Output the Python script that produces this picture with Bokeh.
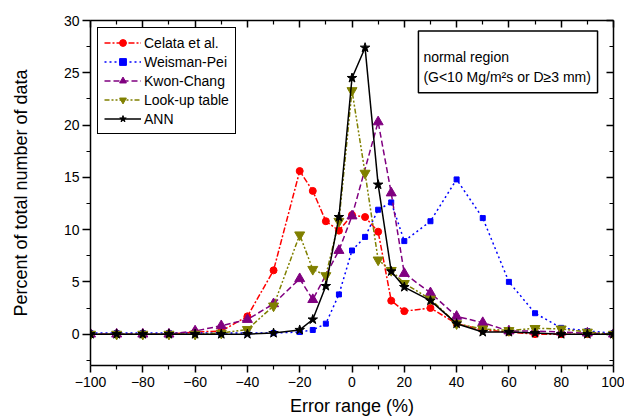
from bokeh.plotting import figure
from bokeh.models import (Range1d, FixedTicker, LinearAxis, BoxAnnotation, Label,
                          CustomJSTickFormatter)
from bokeh.embed import file_html
from bokeh.resources import INLINE

# ---- data ----
x_err = [-100, -90, -80, -70, -60, -50, -40, -30, -20, -15, -10, -5, 0, 5, 10, 15, 20,
         30, 40, 50, 60, 70, 80, 90, 100]
celata = [0, 0, 0, 0, 0.2, 0.3, 1.7, 6.1, 15.6, 13.7, 10.8, 9.9, 11.4, 11.2, 9.8, 3.2, 2.2,
          2.5, 1.0, 0.4, 0.2, 0.0, 0.0, 0.0, 0.0]
weisman = [0.1, 0.1, 0.1, 0.1, 0.1, 0.1, 0.1, 0.1, 0.2, 0.4, 1.0, 3.8, 8.0, 9.3, 11.9, 12.6, 8.9,
           10.8, 14.8, 11.1, 5.0, 2.0, 0.6, 0.3, 0.1]
x_kwon = [-100, -90, -80, -70, -60, -50, -40, -30, -20, -15, -5, 0, 10, 15, 20,
          30, 40, 50, 60, 70, 80, 90, 100]
kwon = [0, 0, 0, 0, 0.3, 0.8, 1.4, 2.9, 5.3, 3.3, 8.0, 11.3, 20.3, 13.5, 5.8,
        3.95, 1.7, 1.1, 0.3, 0.3, 0.2, 0.1, 0.0]
lookup = [0, 0, 0, 0, 0, 0.1, 0.45, 2.7, 9.5, 6.2, 5.6, 10.8, 23.3, 15.4, 7.1, 6.1, 4.85,
          3.35, 1.0, 0.5, 0.35, 0.55, 0.5, 0.2, 0.0]
ann = [0, 0, 0, 0, 0, 0, 0.0, 0.1, 0.4, 1.4, 4.6, 11.2, 24.5, 27.4, 14.3, 6.0, 4.5,
       3.2, 1.0, 0.2, 0.2, 0.1, 0.0, 0.0, 0.0]

x_ticks = [-100, -80, -60, -40, -20, 0, 20, 40, 60, 80, 100]
x_minor = [-90, -70, -50, -30, -10, 10, 30, 50, 70, 90]
y_ticks = [0, 5, 10, 15, 20, 25, 30]
y_minor = [-2.5, 2.5, 7.5, 12.5, 17.5, 22.5, 27.5]

FONT = "Liberation Sans"

p = figure(width=624, height=419, x_range=Range1d(-100, 100), y_range=Range1d(-3, 30),
           output_backend="svg", toolbar_location=None,
           min_border_left=90, min_border_right=11, min_border_top=20, min_border_bottom=54,
           x_axis_label="Error range (%)", y_axis_label="Percent of total number of data")
p.grid.visible = False
p.outline_line_color = None
p.background_fill_color = "white"
p.border_fill_color = "white"

series = [
    ("Celata et al.", x_err, celata, "#FF0000", "6 2 2 2", "circle", 7),
    ("Weisman-Pei", x_err, weisman, "#0000FF", "2 3", "square", 5),
    ("Kwon-Chang", x_kwon, kwon, "#800080", "6 3", "triangle", 10),
    ("Look-up table", x_err, lookup, "#808000", "5 2 2 2 2 2", "inverted_triangle", 10),
    ("ANN", x_err, ann, "#000000", "solid", "star", 10),
]
for name, xs, ys, col, dash, mk, sz in series:
    p.line(xs, ys, line_color=col, line_width=1.5, line_dash=dash, legend_label=name)
    p.scatter(xs, ys, marker=mk, size=sz, fill_color=col, line_color=col, legend_label=name)

xt = FixedTicker(ticks=x_ticks, minor_ticks=x_minor)
yt = FixedTicker(ticks=y_ticks, minor_ticks=y_minor)

bottom = p.below[0]
left = p.left[0]

bottom.ticker = xt
bottom.major_tick_out = 7
bottom.major_tick_in = 0
bottom.minor_tick_out = 4
bottom.minor_tick_in = 0
bottom.major_label_standoff = 4
bottom.axis_label_standoff = 6

left.ticker = yt
left.major_tick_out = 8
left.major_tick_in = 0
left.minor_tick_out = 4
left.minor_tick_in = 0
left.major_label_standoff = 3
left.axis_label_standoff = 30

blank = CustomJSTickFormatter(code="return ''")
top = LinearAxis(ticker=xt, formatter=blank, major_tick_in=7, major_tick_out=0,
                 minor_tick_in=4, minor_tick_out=0, major_label_text_font_size="1px",
                 major_label_standoff=0)
right = LinearAxis(ticker=yt, formatter=blank, major_tick_in=7, major_tick_out=0,
                   minor_tick_in=4, minor_tick_out=0, major_label_text_font_size="1px",
                   major_label_standoff=0)
p.add_layout(top, "above")
p.add_layout(right, "right")

for ax in [bottom, left, top, right]:
    ax.axis_line_width = 1.5
    ax.major_tick_line_width = 1.5
    ax.minor_tick_line_width = 1.2
    ax.axis_line_color = "black"
    ax.major_tick_line_color = "black"
    ax.minor_tick_line_color = "black"
    ax.major_label_text_font = FONT
    ax.axis_label_text_font = FONT
    ax.axis_label_text_font_style = "normal"
for ax in [bottom, left]:
    ax.major_label_text_font_size = "14px"
    ax.major_label_text_color = "black"
    ax.axis_label_text_font_size = "18px"
    ax.axis_label_text_color = "black"

lg = p.legend[0]
lg.location = "top_left"
lg.margin = 7
lg.padding = 6
lg.spacing = 2
lg.label_height = 17
lg.glyph_height = 17
lg.glyph_width = 37
lg.label_standoff = 3
lg.label_text_font = FONT
lg.label_text_font_size = "14px"
lg.label_text_color = "black"
lg.border_line_color = "black"
lg.border_line_alpha = 1.0
lg.border_line_width = 1.5
lg.background_fill_alpha = 1.0

box = BoxAnnotation(left=25.4, right=93.9, top=29.0, bottom=23.1, fill_color="white",
                    fill_alpha=1.0, line_color="black", line_alpha=1.0, line_width=1.5)
p.add_layout(box)
p.add_layout(Label(x=27.3, y=26.5, text="normal region", text_font=FONT,
                   text_font_size="14px", text_baseline="alphabetic", text_color="black"))
p.add_layout(Label(x=27.3, y=24.6, text="(G<10 Mg/m²s or D≥3 mm)", text_font=FONT,
                   text_font_size="14px", text_baseline="alphabetic", text_color="black"))

open("out.html", "w").write(file_html(p, INLINE))
